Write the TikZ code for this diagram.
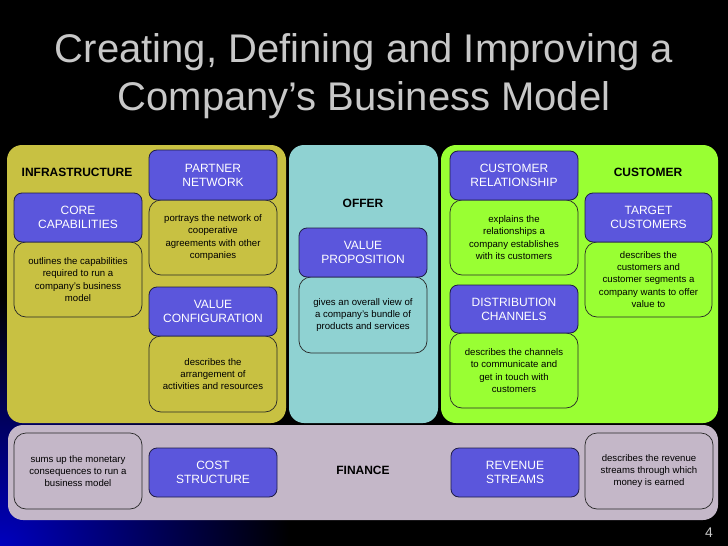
\documentclass[tikz,border=0pt]{standalone}
\usepackage{fontspec}
\setmainfont{Liberation Sans}
\definecolor{infra}{RGB}{200,193,66}
\definecolor{offer}{RGB}{143,210,210}
\definecolor{cust}{RGB}{153,255,51}
\definecolor{fin}{RGB}{196,183,200}
\definecolor{boxblue}{RGB}{91,86,220}
\definecolor{boxedge}{RGB}{30,28,70}
\definecolor{descedge}{RGB}{40,40,40}
\definecolor{titlegray}{RGB}{200,200,200}
\definecolor{glow}{RGB}{0,0,190}
\begin{document}
\begin{tikzpicture}[x=1pt,y=-1pt,
  panel/.style={rounded corners=15pt},
  bluebox/.style={rectangle, fill=boxblue, draw=boxedge, line width=0.8pt,
    rounded corners=8pt, minimum width=128pt, minimum height=49pt, inner sep=0pt,
    align=center, text=white, font=\fontsize{12}{14}\selectfont},
  descbox/.style={rectangle, draw=descedge, line width=0.7pt,
    rounded corners=12pt, minimum width=128pt, minimum height=75pt, inner sep=0pt,
    align=center, text=black, font=\fontsize{9.6}{12.2}\selectfont},
  grouplabel/.style={font=\fontsize{12}{14}\selectfont\bfseries, text=black},
  titletext/.style={font=\fontsize{40}{48}\selectfont, text=titlegray, anchor=base}
]
\useasboundingbox (0,0) rectangle (728,546);
% background
\fill[black] (0,0) rectangle (728,546);
\begin{scope}
  \clip (0,0) rectangle (728,546);
  \fill[inner color=glow, outer color=black] (0,546) ellipse (290 and 250);
\end{scope}
% title
\node[titletext] (t1) at (364,62) {Creating, Defining and Improving a};
\node[titletext] (t2) at (364,110) {Company’s Business Model};
% panels
\fill[panel, infra] (7,145) rectangle (286,423);
\fill[panel, offer] (289,145) rectangle (438,423);
\fill[panel, cust] (441,145) rectangle (718,423);
\fill[panel, fin] (8,425) rectangle (718,520);
% infrastructure
\node[grouplabel] (infl) at (77,172) {INFRASTRUCTURE};
\node[descbox, fill=infra] (ccd) at (78,279.5) {outlines the capabilities\\required to run a\\company's business\\model};
\node[bluebox] (cc) at (78,217.5) {CORE\\CAPABILITIES};
\node[descbox, fill=infra] (pnd) at (213,237.5) {portrays the network of\\cooperative\\agreements with other\\companies};
\node[bluebox, minimum height=50pt] (pn) at (213,175) {PARTNER\\NETWORK};
\node[descbox, fill=infra, minimum height=76pt] (vcd) at (213,374) {describes the\\arrangement of\\activities and resources};
\node[bluebox] (vc) at (213,311.5) {VALUE\\CONFIGURATION};
% offer
\node[grouplabel] (offl) at (363,203) {OFFER};
\node[descbox, fill=offer, minimum height=76pt] (vpd) at (363,315) {gives an overall view of\\a company's bundle of\\products and services};
\node[bluebox] (vp) at (363,252.5) {VALUE\\PROPOSITION};
% customer
\node[grouplabel] (custl) at (648,172) {CUSTOMER};
\node[descbox, fill=cust] (crd) at (514,237.5) {explains the\\relationships a\\company establishes\\with its customers};
\node[bluebox] (cr) at (514,175.5) {CUSTOMER\\RELATIONSHIP};
\node[descbox, fill=cust] (dcd) at (514,370.5) {describes the channels\\to communicate and\\get in touch with\\customers};
\node[bluebox, minimum height=48pt] (dc) at (514,309) {DISTRIBUTION\\CHANNELS};
\node[descbox, fill=cust, minimum width=127pt] (tcd) at (648.5,279.5) {describes the\\customers and\\customer segments a\\company wants to offer\\value to};
\node[bluebox, minimum width=127pt] (tc) at (648.5,217.5) {TARGET\\CUSTOMERS};
% finance
\node[descbox, fill=fin, minimum height=76pt] (csd) at (78,471) {sums up the monetary\\consequences to run a\\business model};
\node[bluebox] (cs) at (213,472.5) {COST\\STRUCTURE};
\node[grouplabel] (finl) at (363,470) {FINANCE};
\node[bluebox] (rs) at (515,472.5) {REVENUE\\STREAMS};
\node[descbox, fill=fin, minimum height=76pt] (rsd) at (649,471) {describes the revenue\\streams through which\\money is earned};
% page number
\node[text=titlegray, font=\fontsize{14}{16}\selectfont] (pg) at (709,533) {4};
\end{tikzpicture}
\end{document}
